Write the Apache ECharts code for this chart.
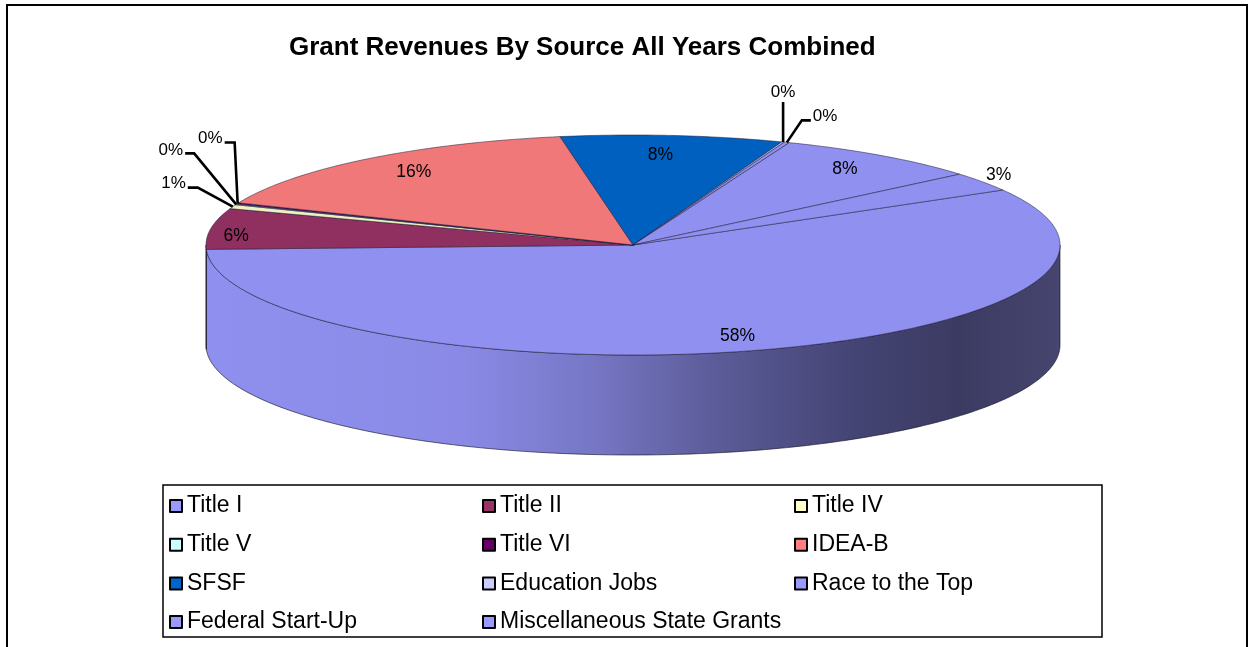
<!DOCTYPE html>
<html>
<head>
<meta charset="utf-8">
<title>Grant Revenues By Source All Years Combined</title>
<script src="https://cdn.jsdelivr.net/npm/echarts@6/dist/echarts.min.js"></script>
<style>
  html, body { margin: 0; padding: 0; background: #fff; }
  #chart { width: 1254px; height: 647px; }
</style>
</head>
<body>
<div id="chart"></div>
<script>
// data
const categories = ['Title I', 'Title II', 'Title IV', 'Title V', 'Title VI', 'IDEA-B', 'SFSF',
  'Education Jobs', 'Race to the Top', 'Federal Start-Up', 'Miscellaneous State Grants'];
const shares = [57.7, 6.0, 0.6, 0.1, 0.2, 16.0, 8.4, 0.1, 0.2, 7.9, 2.8];
const legendColumns = [
  ['Title I', 'Title V', 'SFSF', 'Federal Start-Up'],
  ['Title II', 'Title VI', 'Education Jobs', 'Miscellaneous State Grants'],
  ['Title IV', 'IDEA-B', 'Race to the Top']
];

// look
const colors = ['#9999FF', '#993366', '#FFFFCC', '#CCFFFF', '#660066', '#FF8080', '#0066CC',
  '#CCCCFF', '#9999FF', '#9999FF', '#9999FF'];
const FONT = '"Liberation Sans", Arial, sans-serif';
const pie = { cx: 633, cy: 245, rx: 427, ry: 110, depth: 100, start: -30 };
// where the percent label sits: fraction of the radius, plus a small nudge
const labelPlace = { 0: [0.88, 0, -2], 1: [0.94, 0, 6], 5: [0.83, 2, -2], 6: [0.8, -4, -2], 9: [0.85, 0, 0], 10: [1.04, 2, -4] };
// leader lines for the thin slices (offsets from the rim)
const leaders = {
  2: { pts: [[-35, -19], [-45, -19]], align: 'right', dy: -4 },
  3: { pts: [[-42, -51], [-51, -51]], align: 'right', dy: -3 },
  4: { pts: [[-3, -61], [-13, -61]], align: 'right', dy: -4 },
  7: { pts: [[0, -40]], align: 'center', dy: -1, above: true },
  8: { pts: [[15, -22], [24, -22]], align: 'left', dy: -4 }
};

const total = shares.reduce((a, b) => a + b, 0);
const startAngles = [];
let acc = pie.start;
shares.forEach(v => { startAngles.push(acc); acc += v / total * 360; });

function darken(hex, k) {
  const n = parseInt(hex.slice(1), 16);
  const r = Math.round((n >> 16 & 255) * k), g = Math.round((n >> 8 & 255) * k), b = Math.round((n & 255) * k);
  return 'rgb(' + r + ',' + g + ',' + b + ')';
}

function rim(deg, dy) {
  const t = deg * Math.PI / 180;
  return [pie.cx + pie.rx * Math.cos(t), pie.cy + pie.ry * Math.sin(t) + (dy || 0)];
}

function arc(a, b, dy) {
  const n = Math.max(2, Math.ceil(Math.abs(b - a)));
  const pts = [];
  for (let i = 0; i <= n; i++) pts.push(rim(a + (b - a) * i / n, dy));
  return pts;
}

const sideFill = {
  type: 'linear', x: 206, y: 0, x2: 1060, y2: 0, global: true,
  colorStops: [
    { offset: 0, color: '#8F8FEF' },
    { offset: 0.3, color: '#8A8AE6' },
    { offset: 0.45, color: '#7777C6' },
    { offset: 0.6, color: '#5B5B98' },
    { offset: 0.75, color: '#454576' },
    { offset: 0.88, color: '#3B3B62' },
    { offset: 1, color: '#45456F' }
  ]
};

function renderSlice(params, api) {
  const i = params.dataIndex;
  const v = api.value(0);
  const a = startAngles[i];
  const b = a + v / total * 360;
  const children = [];

  // visible wall: the front half of the rim
  [[-360, -180], [0, 180], [360, 540]].forEach(([lo, hi]) => {
    const s = Math.max(a, lo), e = Math.min(b, hi);
    if (e > s) {
      const pts = arc(s, e, 0).concat(arc(e, s, pie.depth));
      children.push({
        type: 'polygon', z2: 1, shape: { points: pts },
        style: { fill: i === 0 ? sideFill : darken(colors[i], 0.7), stroke: 'rgba(20,20,40,0.8)', lineWidth: 0.8 }
      });
    }
  });

  // top face
  children.push({
    type: 'polygon', z2: 5,
    shape: { points: [[pie.cx, pie.cy]].concat(arc(a, b, 0)) },
    style: { fill: darken(colors[i], 0.94), stroke: 'rgba(30,30,60,0.75)', lineWidth: 0.7 }
  });

  const txt = Math.round(v / total * 100) + '%';
  const mid = (a + b) / 2;
  if (leaders[i]) {
    const L = leaders[i];
    const p = rim(mid, 0);
    const pts = [p].concat(L.pts.map(o => [p[0] + o[0], p[1] + o[1]]));
    const end = pts[pts.length - 1];
    children.push({
      type: 'polyline', z2: 20, shape: { points: pts },
      style: { stroke: '#000', lineWidth: 2.6, fill: null }
    });
    children.push({
      type: 'text', z2: 21,
      style: {
        text: txt, x: end[0] + (L.align === 'right' ? -2 : L.align === 'left' ? 2 : 0), y: end[1] + L.dy,
        textAlign: L.align, textVerticalAlign: L.above ? 'bottom' : 'middle',
        fill: '#000', font: '17px ' + FONT
      }
    });
  } else {
    const lp = labelPlace[i] || [0.85, 0, 0];
    const t = mid * Math.PI / 180;
    children.push({
      type: 'text', z2: 21,
      style: {
        text: txt, x: pie.cx + pie.rx * lp[0] * Math.cos(t) + lp[1], y: pie.cy + pie.ry * lp[0] * Math.sin(t) + lp[2],
        textAlign: 'center', textVerticalAlign: 'middle', fill: '#000', font: '17.5px ' + FONT
      }
    });
  }
  return { type: 'group', children: children };
}

const chart = echarts.init(document.getElementById('chart'), null, { renderer: 'canvas' });

const legendLeft = [164, 477, 789];
chart.setOption({
  backgroundColor: '#fff',
  animation: false,
  title: {
    text: 'Grant Revenues By Source All Years Combined',
    left: 284, top: 30,
    textStyle: { fontFamily: FONT, fontSize: 26, fontWeight: 'bold', color: '#000' }
  },
  legend: legendColumns.map((col, k) => ({
    data: col,
    orient: 'vertical',
    left: legendLeft[k], top: 489,
    icon: 'rect', itemWidth: 12, itemHeight: 12, itemGap: 14.7,
    selectedMode: false,
    itemStyle: { borderColor: '#000', borderWidth: 2 },
    textStyle: { fontFamily: FONT, fontSize: 23, lineHeight: 24, color: '#000' }
  })),
  graphic: [
    { type: 'rect', shape: { x: 7, y: 5, width: 1240, height: 700 }, style: { fill: null, stroke: '#000', lineWidth: 2 }, silent: true },
    { type: 'rect', shape: { x: 163, y: 485, width: 939, height: 152 }, style: { fill: null, stroke: '#000', lineWidth: 1.5 }, silent: true, z: -1 }
  ],
  series: [
    {
      // carries the legend entries
      type: 'pie', name: 'legend', radius: 0.1, center: [-50, -50], silent: true,
      label: { show: false }, labelLine: { show: false },
      data: categories.map((c, i) => ({ name: c, value: shares[i], itemStyle: { color: colors[i] } }))
    },
    {
      type: 'custom', name: 'Grant Revenues', coordinateSystem: 'none', silent: true,
      renderItem: renderSlice,
      data: shares.map((v, i) => ({ name: categories[i], value: [v] }))
    }
  ]
});
</script>
</body>
</html>
